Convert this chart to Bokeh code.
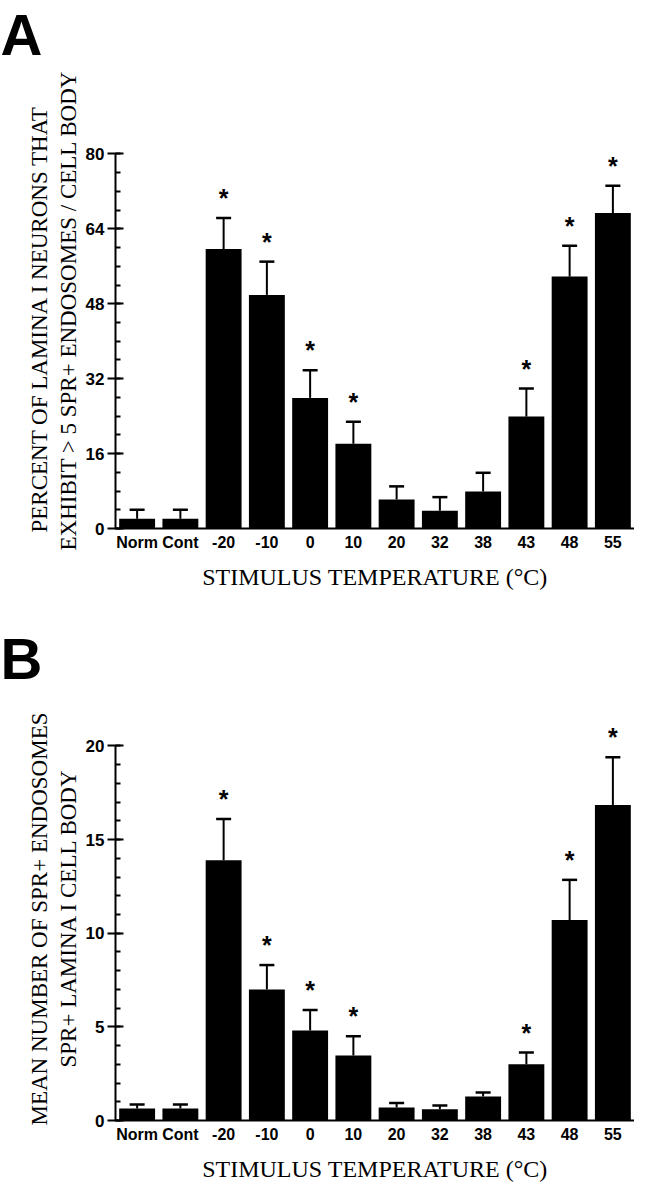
import math
from bokeh.plotting import figure
from bokeh.models import (FactorRange, Range1d, SingleIntervalTicker, Whisker,
                          TeeHead, ColumnDataSource, Title)
from bokeh.layouts import column
from bokeh.core.properties import value
from bokeh.embed import file_html
from bokeh.resources import INLINE

# ---------------- data ----------------
categories = ["Norm", "Cont", "-20", "-10", "0", "10", "20", "32", "38", "43", "48", "55"]

# Panel A: percent of lamina I neurons with > 5 SPR+ endosomes
a_means = [2.1, 2.1, 59.7, 49.9, 27.9, 18.1, 6.2, 3.8, 7.9, 23.9, 53.8, 67.4]
a_upper = [4.0, 4.0, 66.3, 57.0, 33.8, 22.8, 9.0, 6.7, 11.9, 29.9, 60.4, 73.2]

# Panel B: mean number of SPR+ endosomes per cell body
b_means = [0.64, 0.64, 13.9, 7.0, 4.8, 3.47, 0.69, 0.6, 1.28, 3.0, 10.7, 16.85]
b_upper = [0.85, 0.85, 16.1, 8.3, 5.9, 4.5, 0.94, 0.8, 1.5, 3.63, 12.85, 19.4]

significant = ["-20", "-10", "0", "10", "43", "48", "55"]

a_title_lines = ["PERCENT OF LAMINA I NEURONS THAT",
                 "EXHIBIT > 5 SPR+ ENDOSOMES / CELL BODY"]
b_title_lines = ["MEAN NUMBER OF SPR+ ENDOSOMES",
                 "SPR+ LAMINA I CELL BODY"]
x_title = "STIMULUS TEMPERATURE (\u00b0C)"

# ---------------- style ----------------
SERIF = "Liberation Serif"
SANS = "Liberation Sans"
W = 634
LEFT = 115


def style_letter(t):
    t.text_font = SANS
    t.text_font_style = "bold"
    t.text_font_size = "58px"
    t.text_color = "black"
    t.align = "left"
    t.offset = -LEFT


def make_header(letter, height):
    h = figure(width=W, height=height, x_range=Range1d(0, 1), y_range=Range1d(0, 1),
               x_axis_location=None, y_axis_location=None, output_backend="svg",
               toolbar_location=None, tools="", title=letter,
               min_border_left=LEFT, min_border_right=0, min_border_top=0,
               min_border_bottom=0)
    h.outline_line_color = None
    h.xgrid.visible = False
    h.ygrid.visible = False
    style_letter(h.title)
    h.title.standoff = 0
    return h


def make_panel(letter, means, upper, ymax, major, n_minor, title_lines, title_offsets,
               height, border_top, letter_standoff=0):
    p = figure(width=W, height=height, x_range=FactorRange(*categories, range_padding=0),
               y_range=Range1d(0, ymax * 1.1), output_backend="svg", toolbar_location=None,
               min_border_left=LEFT, min_border_right=0, min_border_top=border_top,
               min_border_bottom=64, tools="", title=letter)
    p.outline_line_color = None
    p.xgrid.visible = False
    p.ygrid.visible = False
    if letter:
        style_letter(p.title)
        p.title.standoff = letter_standoff

    src = ColumnDataSource(dict(cat=categories, mean=means, upper=upper))
    p.vbar(x="cat", top="mean", bottom=0, width=0.83, source=src,
           fill_color="black", line_color=None)

    wh = Whisker(base="cat", lower="mean", upper="upper", source=src,
                 dimension="height", line_color="black", line_width=2,
                 upper_head=TeeHead(size=15, line_color="black", line_width=2.5),
                 lower_head=None)
    p.add_layout(wh)

    star_x = [c for c in categories if c in significant]
    star_y = [u for c, u in zip(categories, upper) if c in significant]
    p.text(x=star_x, y=star_y, text=["*"] * len(star_x), text_align="center",
           text_baseline="middle", y_offset=-20, text_font=value(SANS),
           text_font_style="bold", text_font_size="25px", text_color="black")

    ya = p.yaxis[0]
    ya.bounds = (0, ymax)
    ya.ticker = SingleIntervalTicker(interval=major, num_minor_ticks=n_minor)
    ya.axis_line_width = 2
    ya.major_tick_line_width = 2
    ya.minor_tick_line_width = 2
    ya.major_tick_in = 8
    ya.major_tick_out = 8
    ya.minor_tick_in = 5
    ya.minor_tick_out = 0
    ya.major_label_standoff = 3
    ya.major_label_text_font = SANS
    ya.major_label_text_font_style = "bold"
    ya.major_label_text_font_size = "17px"
    ya.major_label_text_color = "black"

    xa = p.xaxis[0]
    xa.axis_line_width = 2
    xa.major_tick_in = 0
    xa.major_tick_out = 0
    xa.minor_tick_in = 0
    xa.minor_tick_out = 0
    xa.major_label_standoff = 5
    xa.major_label_text_font = SANS
    xa.major_label_text_font_style = "bold"
    xa.major_label_text_font_size = "16px"
    xa.major_label_text_color = "black"
    xa.axis_label = x_title
    xa.axis_label_text_font = SERIF
    xa.axis_label_text_font_style = "normal"
    xa.axis_label_text_font_size = "24px"
    xa.axis_label_text_color = "black"
    xa.axis_label_standoff = 10

    # two-line y title: second line nearest the axis, first line outside it
    line1, line2 = title_lines
    off1, off2 = title_offsets
    for text, off, so in ((line2, off2, 4), (line1, off1, 0)):
        p.add_layout(Title(text=text, align="left", offset=off, standoff=so,
                           text_font=SERIF, text_font_style="normal",
                           text_font_size="23px", text_color="black"), "left")
    return p


HEADER_H = 66
head_a = make_header("A", HEADER_H)
pa = make_panel(None, a_means, a_upper, 80, 16, 4, a_title_lines, (-4, -22),
                height=592 - HEADER_H, border_top=116 - HEADER_H)
pb = make_panel("B", b_means, b_upper, 20, 5, 5, b_title_lines, (-5, 53),
                height=592, border_top=116, letter_standoff=36)

layout = column(head_a, pa, pb, spacing=0)
open("out.html", "w").write(file_html(layout, INLINE))
